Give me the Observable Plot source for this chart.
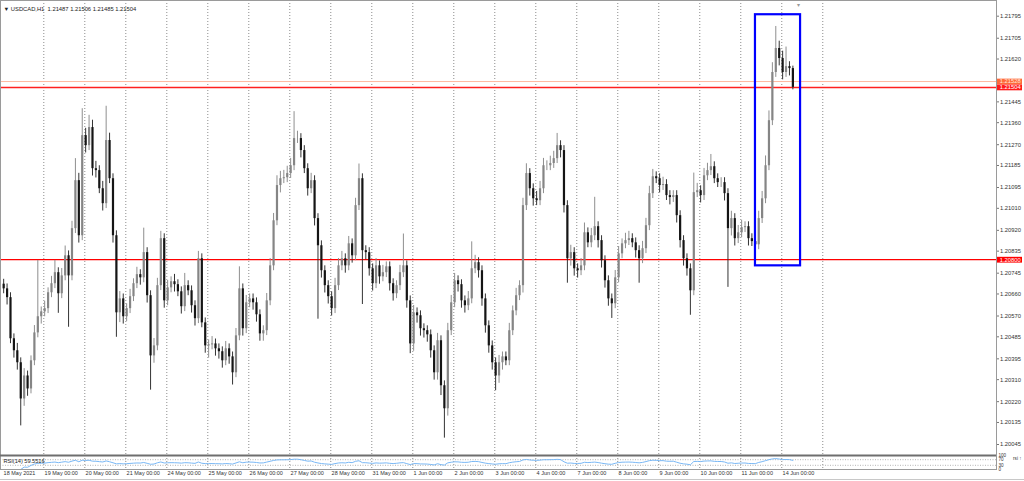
<!DOCTYPE html>
<html><head><meta charset="utf-8">
<script src="https://cdn.jsdelivr.net/npm/d3@7"></script>
<script src="https://cdn.jsdelivr.net/npm/@observablehq/plot@0.6"></script>
<style>
html,body{margin:0;padding:0;background:#fff;}
#chart{position:relative;width:1024px;height:481px;overflow:hidden;}
#main,#tags{position:absolute;left:0;top:0;}
#tags{pointer-events:none;}
#rsi{position:absolute;left:0;top:453px;}
#bottomline{position:absolute;left:0;top:479px;width:1024px;height:1px;background:#c8c8c8;}
</style></head><body>
<div id="chart"><div id="main"></div><div id="tags"></div><div id="rsi"></div><div id="bottomline"></div></div>
<script>
// ---- data (USDCAD, 2-hour bars) ----
const symbolTitle = "▼ USDCAD,H1  1.21487 1.21506 1.21485 1.21504";
const rsiTitle = "RSI(14) 59.5516";
const firstOpen = 1.20700;
const closes = [
 1.20681,1.20645,1.20477,1.20428,1.20379,1.20231,1.20325,1.20272,1.20387,1.20501,1.20567,1.20587,
 1.20600,1.20665,1.20702,1.20747,1.20661,1.20734,1.20816,1.20734,1.20927,1.21123,1.20898,1.21307,
 1.21266,1.21340,1.21172,1.21164,1.21090,1.21029,1.21287,1.21131,1.20898,1.20583,1.20640,1.20567,
 1.20600,1.20649,1.20702,1.20739,1.20726,1.20829,1.20653,1.20407,1.20448,1.20694,1.20886,1.20632,
 1.20685,1.20710,1.20698,1.20669,1.20608,1.20694,1.20673,1.20612,1.20559,1.20804,1.20542,1.20448,
 1.20452,1.20456,1.20436,1.20424,1.20387,1.20436,1.20403,1.20338,1.20489,1.20681,1.20518,1.20624,
 1.20640,1.20624,1.20575,1.20497,1.20510,1.20632,1.20775,1.20959,1.21103,1.21131,1.21135,1.21152,
 1.21184,1.21295,1.21295,1.21246,1.21172,1.21090,1.21123,1.20968,1.20857,1.20755,1.20694,1.20649,
 1.20600,1.20694,1.20775,1.20804,1.20775,1.20865,1.20816,1.21021,1.21131,1.20837,1.20829,1.20763,
 1.20702,1.20775,1.20730,1.20747,1.20771,1.20702,1.20661,1.20694,1.20747,1.20775,1.20632,1.20456,
 1.20583,1.20571,1.20518,1.20510,1.20493,1.20428,1.20338,1.20469,1.20285,1.20191,1.20510,1.20624,
 1.20714,1.20698,1.20632,1.20612,1.20640,1.20763,1.20788,1.20755,1.20640,1.20530,1.20448,1.20379,
 1.20325,1.20379,1.20403,1.20387,1.20510,1.20591,1.20653,1.20694,1.21021,1.21152,1.21090,1.21049,
 1.21041,1.21090,1.21184,1.21184,1.21193,1.21213,1.21266,1.21246,1.21021,1.20804,1.20829,1.20763,
 1.20755,1.20775,1.20910,1.20869,1.20898,1.20935,1.20878,1.20796,1.20714,1.20640,1.20620,1.20726,
 1.20824,1.20865,1.20878,1.20886,1.20869,1.20837,1.20804,1.20845,1.20939,1.21070,1.21139,1.21131,
 1.21103,1.21107,1.21062,1.21054,1.21062,1.20980,1.20878,1.20804,1.20763,1.20673,1.21074,1.21082,
 1.21062,1.21143,1.21164,1.21180,1.21131,1.21115,1.21115,1.21070,1.20927,1.20968,1.20886,1.20910,
 1.20931,1.20935,1.20886,1.20874,1.20861,1.20968,1.21049,1.21184,1.21368,1.21565,1.21663,1.21622,
 1.21565,1.21589,1.21581,1.21504
];
// upper / lower shadow lengths in pips
const wickUp = [
 2,2,2,2,3,2,3,2,2,3,23,2, 3,2,3,5,2,3,4,2,3,9,3,11, 3,5,3,3,2,3,14,3,2,2,3,2,
 2,3,2,3,2,10,2,2,3,3,3,2, 3,2,3,2,2,5,2,2,2,3,2,2, 2,3,2,2,2,3,2,2,3,9,2,3,
 2,2,2,2,2,3,3,3,4,3,3,3, 3,11,3,2,2,2,3,2,2,2,2,2, 2,3,3,3,2,3,2,3,6,2,2,2,
 2,3,2,3,2,2,2,2,3,13,2,2, 3,2,2,2,2,2,2,3,2,2,3,3, 3,2,2,2,3,11,3,2,2,2,2,2,
 2,3,2,2,3,2,3,2,3,4,2,2, 3,3,3,2,3,3,5,2,2,2,3,2, 2,3,4,2,3,12,2,2,2,2,2,3,
 3,2,3,3,2,2,2,3,3,3,3,2, 2,3,2,2,2,2,2,2,2,2,8,3, 2,3,3,5,2,2,2,2,2,3,2,3,
 3,2,2,2,2,3,3,4,4,4,9,3, 3,8,2,1
];
const wickDown = [
 2,3,2,3,3,11,3,3,2,2,2,3, 2,2,2,2,8,2,2,21,2,2,3,2, 3,2,3,3,2,3,2,2,3,10,4,3,
 2,2,2,2,3,2,3,14,3,2,2,3, 2,2,3,2,3,2,2,3,3,2,2,3, 5,2,3,3,3,2,3,5,2,2,3,2,
 2,3,3,3,3,2,2,2,2,3,2,2, 2,2,2,3,2,3,2,3,30,3,3,3, 3,2,2,2,3,2,3,2,2,22,3,3,
 3,2,3,2,2,3,3,2,2,2,3,4, 3,3,3,3,3,3,3,3,4,12,3,2, 2,3,3,3,2,2,2,3,3,3,3,3,
 6,3,3,2,2,2,2,2,3,2,3,3, 2,2,2,2,2,2,2,3,3,10,3,3, 3,2,2,2,2,2,3,3,3,3,6,2,
 2,2,2,2,2,3,10,2,2,2,2,2, 3,2,2,3,2,3,3,3,3,10,2,2, 3,2,2,2,2,2,2,3,24,3,3,2,
 2,2,3,2,7,2,2,2,2,2,2,3, 3,2,3,1
];
const dayLabels = ["18 May 2021","19 May 00:00","20 May 00:00","21 May 00:00","24 May 00:00",
 "25 May 00:00","26 May 00:00","27 May 00:00","28 May 00:00","31 May 00:00","1 Jun 00:00",
 "2 Jun 00:00","3 Jun 00:00","4 Jun 00:00","7 Jun 00:00","8 Jun 00:00","9 Jun 00:00",
 "10 Jun 00:00","11 Jun 00:00","14 Jun 00:00"];
const priceTicks = [1.21795,1.21705,1.21620,1.21445,1.21360,1.21270,1.21185,1.21095,1.21010,
 1.20920,1.20835,1.20745,1.20660,1.20570,1.20485,1.20395,1.20310,1.20220,1.20135,1.20045];
const supportLevels = [1.20800];
const askPrice = 1.21528;
const bidPrice = 1.21504;
const priceTags = [
 {price: 1.21528, bg: "#ff6a3a", fg: "#ffe6dc"},
 {price: 1.21504, bg: "#ff1a1a", fg: "#ffffff"},
 {price: 1.20800, bg: "#ff0000", fg: "#ffffff"}
];
const highlight = {start: 440.6, end: 467.0, low: 1.20775, high: 1.21801};
const chartShift = 465.5;
const rsiLevels = [30, 70];

// ---- build tables ----
const pip = 0.0001, hoursPerBar = 2, hoursPerDay = 24;
const bars = closes.map((c, k) => {
  const o = k ? closes[k - 1] : firstOpen;
  return {t: k * hoursPerBar + 0.5, open: o, close: c,
    high: Math.max(o, c) + wickUp[k] * pip, low: Math.min(o, c) - wickDown[k] * pip, up: c >= o};
});
const gridIdx = d3.range(1, dayLabels.length + 1).map(d => d * hoursPerDay);
const dayTicks = dayLabels.map((label, i) => ({t: i * hoursPerDay, label}));
const rsiData = [];
{ let ag = 0, al = 0;
  for (let k = 1; k < closes.length; k++) {
    const d = closes[k] - closes[k - 1];
    const n = Math.min(k, 14);
    ag = (ag * (n - 1) + Math.max(d, 0)) / n;
    al = (al * (n - 1) + Math.max(-d, 0)) / n;
    rsiData.push({t: bars[k].t, rsi: al === 0 ? 100 : 100 - 100 / (1 + ag / al)});
  } }

const xDomain = [-1.35, 581.7];
const yScale = {domain: [1.20045, 1.21795], range: [444, 15.7]};
const font = "'Liberation Sans', Arial, sans-serif";
const wickColor = d => d.up ? "#8e8e8e" : "#333333";
const bodyColor = d => d.up ? "#858585" : "#151515";
const fmt5 = d3.format(".5f");

const main = Plot.plot({
  width: 1024, height: 455, marginLeft: 0, marginRight: 28, marginTop: 0, marginBottom: 0,
  style: {fontFamily: font, background: "white", overflow: "visible"},
  x: {domain: xDomain, axis: null},
  y: {...yScale, axis: null},
  color: {type: "identity"},
  marks: [
    Plot.ruleX(gridIdx, {stroke: "#8c8c8c", strokeDasharray: "1,2", strokeWidth: 1}),
    Plot.ruleY(supportLevels, {stroke: "#ff0000", strokeWidth: 1.3}),
    Plot.ruleY([askPrice], {stroke: "#ffb8a0", strokeWidth: 1}),
    Plot.ruleY([bidPrice], {stroke: "#ff2020", strokeWidth: 1.5}),
    Plot.ruleX(bars, {x: "t", y1: "low", y2: "high", stroke: wickColor, strokeWidth: 1}),
    Plot.ruleX(bars, {x: "t", y1: "open", y2: "close", stroke: bodyColor, strokeWidth: 2.2}),
    Plot.rect([highlight], {x1: "start", x2: "end", y1: "low", y2: "high", fill: "none", stroke: "#0000ff", strokeWidth: 2.2}),
    Plot.frame({stroke: "#9a9a9a"}),
    Plot.axisY({anchor: "right", ticks: priceTicks, tickSize: 2, tickPadding: 1.5, fontSize: 5.8,
      tickFormat: fmt5, stroke: "#777", color: "#333"}),
    Plot.text([symbolTitle], {frameAnchor: "top-left", dx: 3, dy: 6, fontSize: 5.8, fill: "#222", textAnchor: "start"}),
    Plot.text([chartShift], {x: d => d, text: () => "▾", frameAnchor: "top", dy: 2.5, fontSize: 6, fill: "#999"})
  ]
});
document.getElementById("main").appendChild(main);

// price tags in the right-hand price scale (same y scale as the chart)
const tags = Plot.plot({
  width: 1024, height: 455, marginLeft: 997, marginRight: 2, marginTop: 0, marginBottom: 0,
  style: {fontFamily: font, background: "transparent", overflow: "visible"},
  y: {...yScale, axis: null},
  color: {type: "identity"},
  marks: [
    Plot.ruleY(priceTags, {y: "price", stroke: "bg", strokeWidth: 5.8}),
    Plot.text(priceTags, {y: "price", text: d => fmt5(d.price), frameAnchor: "left", dx: 2.2,
      textAnchor: "start", fill: "fg", fontSize: 5.8})
  ]
});
document.getElementById("tags").appendChild(tags);

const rsiPlot = Plot.plot({
  width: 1024, height: 28, marginLeft: 0, marginRight: 28, marginTop: 2, marginBottom: 12,
  style: {fontFamily: font, background: "transparent", overflow: "visible"},
  x: {domain: xDomain, axis: null},
  y: {domain: [0, 100], axis: null},
  marks: [
    Plot.ruleX(gridIdx, {stroke: "#8c8c8c", strokeDasharray: "1,2", strokeWidth: 1}),
    Plot.ruleY(rsiLevels, {stroke: "#b4b4b4", strokeDasharray: "1,1.5"}),
    Plot.line(rsiData, {x: "t", y: "rsi", stroke: "#7ab8f5", strokeWidth: 1}),
    Plot.frame({stroke: "#9a9a9a"}),
    Plot.ruleY([100], {stroke: "#6e6e6e", strokeWidth: 2}),
    Plot.axisY({anchor: "right", ticks: [0, 30, 70, 100], tickSize: 0, tickPadding: 2, fontSize: 4.6, color: "#333"}),
    Plot.text([rsiTitle], {frameAnchor: "top-left", dx: 3, dy: 3.5, fontSize: 5.6, fill: "#222", textAnchor: "start"}),
    Plot.text(dayTicks, {x: "t", text: "label", frameAnchor: "bottom", dy: 5.5, dx: 0.8, textAnchor: "start", fontSize: 5.5, fill: "#333"})
  ]
});
document.getElementById("rsi").appendChild(rsiPlot);
</script>
</body></html>
